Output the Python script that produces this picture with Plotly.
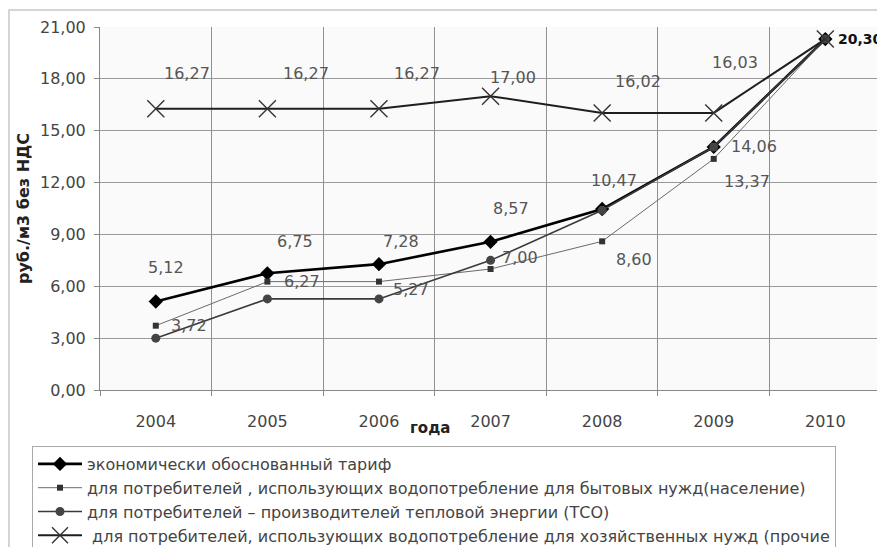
import plotly.graph_objects as go

# ---------------- data ----------------
years = ["2004", "2005", "2006", "2007", "2008", "2009", "2010"]
tariff = [5.12, 6.75, 7.28, 8.57, 10.47, 14.06, 20.30]
population = [3.72, 6.27, 6.27, 7.00, 8.60, 13.37, 20.30]
heat_producers = [3.00, 5.27, 5.27, 7.50, 10.40, 14.06, 20.30]
other = [16.27, 16.27, 16.27, 17.00, 16.02, 16.03, 20.30]

series_names = [
    "экономически обоснованный тариф",
    "для потребителей , использующих водопотребление для бытовых нужд(население)",
    "для потребителей – производителей тепловой энергии (ТСО)",
    " для потребителей, использующих водопотребление для хозяйственных нужд (прочие",
]
y_tick_values = [0, 3, 6, 9, 12, 15, 18, 21]
y_grid_values = [3, 6, 9, 12, 15, 18]
y_title = "руб./м3 без НДС"
x_title = "года"

# which points carry a data label: (point index, x offset px, y offset px down)
tariff_labels = [(0, 10, -34), (1, 28, -32), (2, 22, -23), (3, 20, -33), (4, 12, -29)]
population_labels = [(0, 33, 0), (1, 35, 0), (3, 29, -12), (4, 32, 18), (5, 33, 23)]
heat_labels = [(2, 32, -9), (5, 40, 0)]
other_labels = [(0, 31, -35), (1, 39, -35), (2, 38, -35), (3, 22, -19), (4, 36, -32), (5, 21, -50)]
final_label = (6, 11, 0)


def fmt(v):
    return f"{v:.2f}".replace(".", ",")


# the page body has an 8px margin: plot area spans screen x 100..880, y 27..390
PL, PR, PT, PB = 100, 880, 27, 390
PW, PH = PR - PL, PB - PT


def px(sx):
    return (sx - PL) / PW


def py(sy):
    return (PB - sy) / PH


fig = go.Figure()

styles = [
    dict(values=tariff, line=dict(color="#000000", width=2.6),
         marker=dict(symbol="diamond", size=11, color="#000000")),
    dict(values=population, line=dict(color="#6a6a6a", width=1),
         marker=dict(symbol="square", size=6, color="#333333")),
    dict(values=heat_producers, line=dict(color="#3a3a3a", width=1.6),
         marker=dict(symbol="circle", size=9, color="#444444")),
    dict(values=other, line=dict(color="#1e1e1e", width=2),
         marker=dict(symbol="x-thin-open", size=17, color="#333333",
                     line=dict(width=1.4, color="#333333"))),
]

for i, (name, st) in enumerate(zip(series_names, styles)):
    fig.add_trace(go.Scatter(
        x=years, y=st["values"], name=name, mode="lines+markers",
        line=st["line"], marker=st["marker"], legendgroup=f"g{i}",
        hoverinfo="skip"))

annotations = []
label_font = dict(family="DejaVu Sans", size=16, color="#555555")
for vals, specs in [(tariff, tariff_labels), (population, population_labels),
                    (heat_producers, heat_labels), (other, other_labels)]:
    for idx, dx, dy in specs:
        annotations.append(dict(
            x=idx, y=vals[idx], xref="x", yref="y",
            text=fmt(vals[idx]), showarrow=False,
            xshift=dx, yshift=-dy, font=label_font))

idx, dx, dy = final_label
annotations.append(dict(
    x=idx, y=other[idx], xref="x", yref="y",
    text="<b>" + fmt(other[idx]) + "</b>",
    showarrow=False, xanchor="left", xshift=dx, yshift=-dy,
    font=dict(family="DejaVu Sans", size=14, color="#111111")))

annotations.append(dict(
    x=px(430), y=py(428), xref="paper", yref="paper",
    yanchor="middle", text="<b>" + x_title + "</b>", showarrow=False,
    font=dict(family="DejaVu Sans", size=15, color="#222222")))

W, H = 885 - 8, 547 - 8
fig.update_layout(
    width=W, height=H,
    margin=dict(l=PL - 8, r=W - (PR - 8), t=PT - 8, b=H - (PB - 8), autoexpand=False),
    paper_bgcolor="white",
    plot_bgcolor="#fafafa",
    separators=", ",
    font=dict(family="DejaVu Sans", color="#333333"),
    annotations=annotations,
    showlegend=True,
    legend=dict(
        x=px(32), y=py(446), xanchor="left", yanchor="top",
        bgcolor="white", bordercolor="#aaaaaa", borderwidth=1,
        font=dict(family="DejaVu Sans", size=16, color="#444444"),
        traceorder="grouped", tracegroupgap=0, itemwidth=44,
    ),
    shapes=[dict(type="rect", xref="paper", yref="paper",
                 x0=px(9), x1=px(900), y0=py(560), y1=py(10),
                 line=dict(color="#c8c8c8", width=1.5), layer="below")],
)

fig.update_xaxes(
    type="category", range=[-0.5, 6.49], tickson="boundaries",
    showgrid=True, gridcolor="#909090", gridwidth=1,
    showline=True, linecolor="#888888", linewidth=1,
    ticks="outside", ticklen=5, tickcolor="#888888",
    tickfont=dict(family="DejaVu Sans", size=16, color="#444444"),
    ticklabelstandoff=17,
)
fig.update_yaxes(
    range=[0, 21], tickvals=y_tick_values, tickformat=".2f",
    showgrid=False,
    minor=dict(tickvals=y_grid_values, showgrid=True, gridcolor="#9a9a9a",
               gridwidth=1, ticks=""),
    showline=True, linecolor="#888888", linewidth=1,
    ticks="outside", ticklen=5, tickcolor="#888888",
    tickfont=dict(family="DejaVu Sans", size=16, color="#444444"),
    ticklabelstandoff=5, zeroline=False,
    title=dict(text="<b>" + y_title + "</b>", standoff=6,
               font=dict(family="DejaVu Sans", size=16, color="#222222")),
)

fig.write_html("out.html")
